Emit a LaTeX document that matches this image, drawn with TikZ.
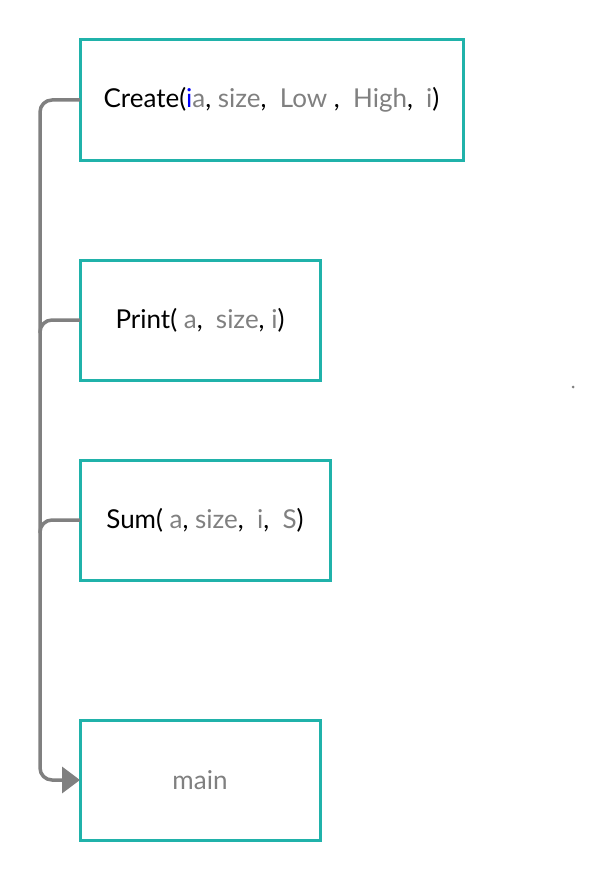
\documentclass[tikz,border=0pt]{standalone}
\usepackage{fontspec}
\setmainfont{Lato}
\usepackage{tikz}
\usetikzlibrary{arrows.meta}

\definecolor{boxteal}{HTML}{20B2AA}
\definecolor{argray}{HTML}{808080}
\newcommand{\fnarg}[1]{\textcolor{argray}{#1}}

\begin{document}
\begin{tikzpicture}[x=1pt, y=-1pt, thick,
                    fn node/.style={rectangle, draw=boxteal, line width=3pt,
                                    minimum height=120pt, inner sep=0pt, outer sep=0pt,
                                    font=\fontsize{26}{30}\selectfont},
                    call line/.style={draw=argray, line width=3.5pt, rounded corners=12pt}]
  \useasboundingbox (0,0) rectangle (614,880);
  \node[fn node, minimum width=383pt] (create) at (271.5,100)
    {\raisebox{-2pt}{Create(\textcolor{blue}{i}\fnarg{a}, \fnarg{size},\ \ \fnarg{Low} ,\ \ \fnarg{High},\ \ \fnarg{i})}};
  \node[fn node, minimum width=240pt] (print) at (200,320)
    {\raisebox{-2pt}{Print( \fnarg{a},\ \ \fnarg{size}, \fnarg{i})}};
  \node[fn node, minimum width=250pt] (sum) at (205,520)
    {\raisebox{-2pt}{Sum( \fnarg{a}, \fnarg{size},\ \ \fnarg{i},\ \ \fnarg{S})}};
  \node[fn node, minimum width=240pt] (main) at (200,780) {\raisebox{-2pt}{\fnarg{main}}};
  \coordinate (bend) at (40,780);
  \path[call line, -{Triangle[length=18pt,width=26pt]}]
    (create.west) -| (bend) -- (main.west);
  \path[call line]
    (print.west) -| +(-40,13)
    (sum.west) -| +(-40,13);
  \fill[argray] (573,387) circle (1.5);
\end{tikzpicture}
\end{document}
